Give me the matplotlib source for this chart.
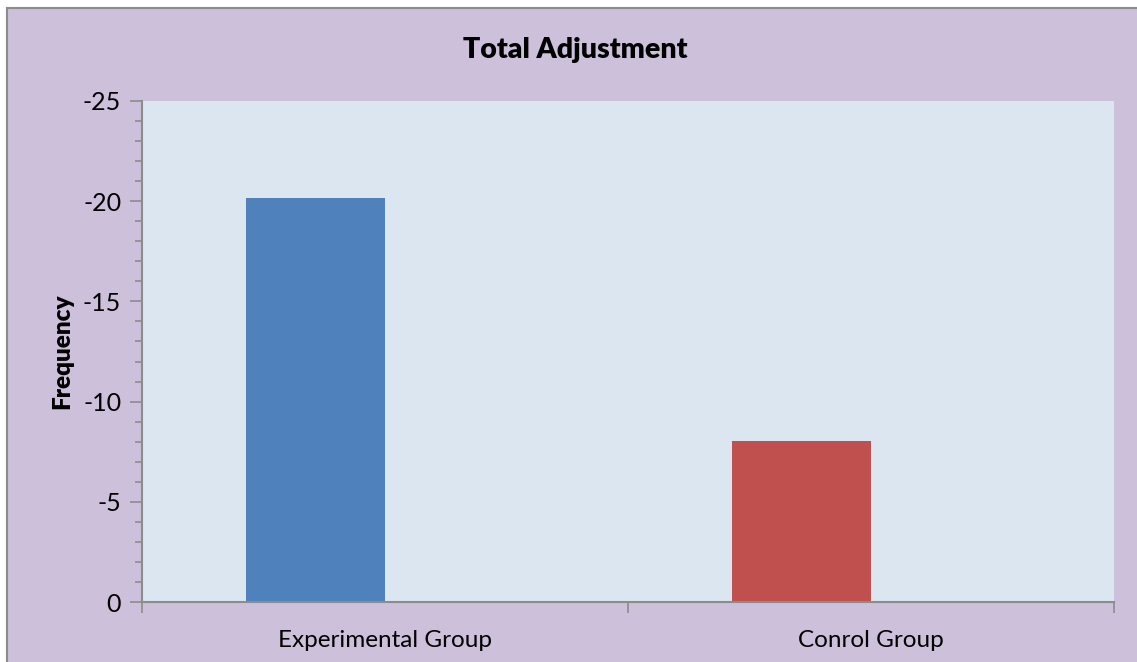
import matplotlib.pyplot as plt
from matplotlib.patches import Rectangle
from matplotlib.ticker import MultipleLocator, FixedLocator

plt.rcParams['font.family'] = ['Lato', 'DejaVu Sans']
plt.rcParams['axes.unicode_minus'] = False

# data
groups = ['Experimental Group', 'Conrol Group']
values = [-20.16, -8.03]
colors = ['#4F81BD', '#C0504D']

fig = plt.figure(figsize=(11.37, 6.62), dpi=100)
fig.patch.set_facecolor('white')

# lavender chart frame
W, H = 1137, 662
fig.patches.append(Rectangle((7 / W, -0.01), 1.0, 1 - 8 / H + 0.01,
                             transform=fig.transFigure, facecolor='#CCC0DA',
                             edgecolor='#8C8C8C', linewidth=1.5, zorder=-5))

ax = fig.add_axes([142 / W, 1 - 602 / H, (1114 - 142) / W, (602 - 101) / H])
ax.set_zorder(2)
ax.set_facecolor('#DCE6F1')

bar_w = 0.286
x = list(range(len(groups)))
ax.bar([i - bar_w / 2 for i in x], values, width=bar_w, color=colors, zorder=2)

ax.set_xlim(-0.5, len(groups) - 0.5)
ax.set_ylim(0, -25)

ax.yaxis.set_major_locator(MultipleLocator(5))
ax.yaxis.set_minor_locator(MultipleLocator(1))
ax.tick_params(axis='y', which='major', length=9, width=1.2, color='#8C8C8C',
               labelsize=18, pad=6)
ax.tick_params(axis='y', which='minor', length=5, width=1.2, color='#8C8C8C')

ax.xaxis.set_major_locator(FixedLocator([-0.5, 0.5, 1.5]))
ax.xaxis.set_minor_locator(FixedLocator(x))
ax.set_xticklabels([])
ax.set_xticklabels(groups, minor=True)
ax.tick_params(axis='x', which='major', length=8, width=1.2, color='#8C8C8C')
ax.tick_params(axis='x', which='minor', length=0, labelsize=17.5, pad=20)

for side in ['top', 'right']:
    ax.spines[side].set_visible(False)
for side in ['left', 'bottom']:
    ax.spines[side].set_color('#8C8C8C')
    ax.spines[side].set_linewidth(1.5)

ax.set_ylabel('Frequency', fontsize=17.5, fontweight='heavy', labelpad=7)
fig.text(575 / W, 1 - 50 / H, 'Total Adjustment', ha='center',
         va='center', fontsize=20.5, fontweight='heavy')

fig.savefig('out.png', dpi=100)
